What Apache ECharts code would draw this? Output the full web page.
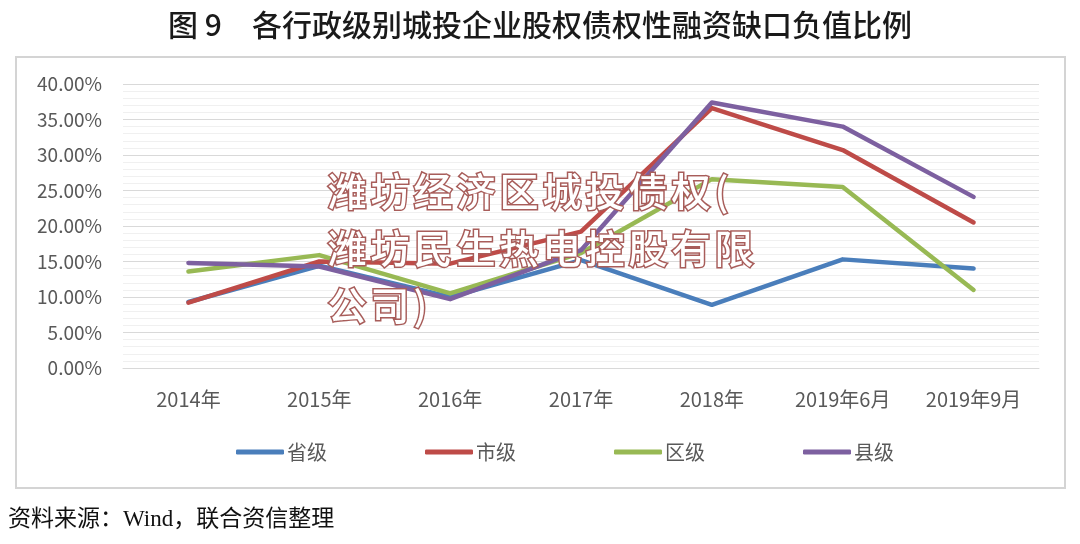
<!DOCTYPE html>
<html>
<head>
<meta charset="utf-8">
<script src="https://cdn.jsdelivr.net/npm/echarts@6/dist/echarts.min.js"></script>
<style>html,body{margin:0;padding:0;background:#fff;}#c{width:1080px;height:544px;}</style>
</head>
<body>
<div id="c"></div>
<script>
var categories = ['2014年', '2015年', '2016年', '2017年', '2018年', '2019年6月', '2019年9月'];
var seriesNames = ['省级', '市级', '区级', '县级'];
var provincial = [9.3, 14.4, 10.0, 15.2, 8.9, 15.3, 14.0];
var municipal = [9.2, 15.0, 14.7, 19.2, 36.6, 30.7, 20.5];
var district = [13.6, 15.9, 10.5, 16.2, 26.6, 25.5, 11.0];
var county = [14.8, 14.3, 9.7, 16.6, 37.4, 34.0, 24.1];
var yTicks = [0, 5, 10, 15, 20, 25, 30, 35, 40];
var colors = ['#4A7EBB', '#BE4B48', '#98B954', '#7D60A0'];
var titleText = '图 9　各行政级别城投企业股权债权性融资缺口负值比例';
var sourceText = '资料来源：Wind，联合资信整理';
var watermarkLines = ['潍坊经济区城投债权(', '潍坊民生热电控股有限', '公司)'];

var chart = echarts.init(document.getElementById('c'));
var allData = [provincial, municipal, district, county];
var series = seriesNames.map(function (n, i) {
  return {
    name: n, type: 'line', data: allData[i], symbol: 'none', smooth: false,
    lineStyle: { width: 4.5, color: colors[i], cap: 'round', join: 'round' },
    itemStyle: { color: colors[i] }
  };
});
var wm = [];
watermarkLines.forEach(function (line, li) {
  Array.from(line).forEach(function (ch, ci) {
    wm.push({
      type: 'text', left: 326 + ci * 43, top: 170 + li * 57, z: 100,
      style: {
        text: ch, fill: '#ffffff', font: '500 39px "Noto Sans CJK SC"',
        stroke: '#a85d5a', lineWidth: 3,
        shadowColor: 'rgba(140,60,60,0.35)', shadowBlur: 2, shadowOffsetX: 1, shadowOffsetY: 1
      }
    });
  });
});
chart.setOption({
  animation: false,
  color: colors,
  title: {
    text: titleText, left: 'center', top: 5,
    textStyle: { fontFamily: 'Noto Sans CJK SC', fontSize: 30, fontWeight: 500, color: '#1a1a1a' }
  },
  grid: { left: 123, right: 41, top: 84, bottom: 176 },
  legend: {
    data: seriesNames, left: 231, top: 437, itemWidth: 48, itemHeight: 5, itemGap: 98,
    icon: 'roundRect',
    textStyle: { fontFamily: 'Noto Sans CJK SC', fontSize: 20, color: '#595959', padding: [0, 0, 0, -2] }
  },
  xAxis: {
    type: 'category', data: categories, boundaryGap: true,
    axisLine: { show: true, lineStyle: { color: '#d9d9d9', width: 1 } },
    axisTick: { show: false },
    axisLabel: { margin: 21, fontFamily: 'Noto Sans CJK SC', fontSize: 20, color: '#595959' }
  },
  yAxis: {
    type: 'value', min: yTicks[0], max: yTicks[yTicks.length - 1], interval: 5,
    axisLine: { show: false }, axisTick: { show: false },
    axisLabel: { margin: 21, fontFamily: 'Noto Sans CJK SC', fontSize: 19, color: '#595959',
      formatter: function (v) { return v.toFixed(2) + '%'; } },
    splitLine: { lineStyle: { color: '#d9d9d9', width: 1 } },
    minorTick: { show: true, splitNumber: 5, length: 0, lineStyle: { color: 'transparent' } },
    minorSplitLine: { show: true, lineStyle: { color: '#f0f0f0', width: 1 } }
  },
  series: series,
  graphic: [
    { type: 'rect', shape: { x: 16, y: 57, width: 1049, height: 431 }, z: -1,
      style: { fill: 'none', stroke: '#d4d4d4', lineWidth: 2 } },
    { type: 'text', left: 8, top: 508,
      style: { text: sourceText, fill: '#111', font: '23px "Liberation Serif", "Noto Sans CJK SC"' } }
  ].concat(wm)
});
</script>
</body>
</html>
